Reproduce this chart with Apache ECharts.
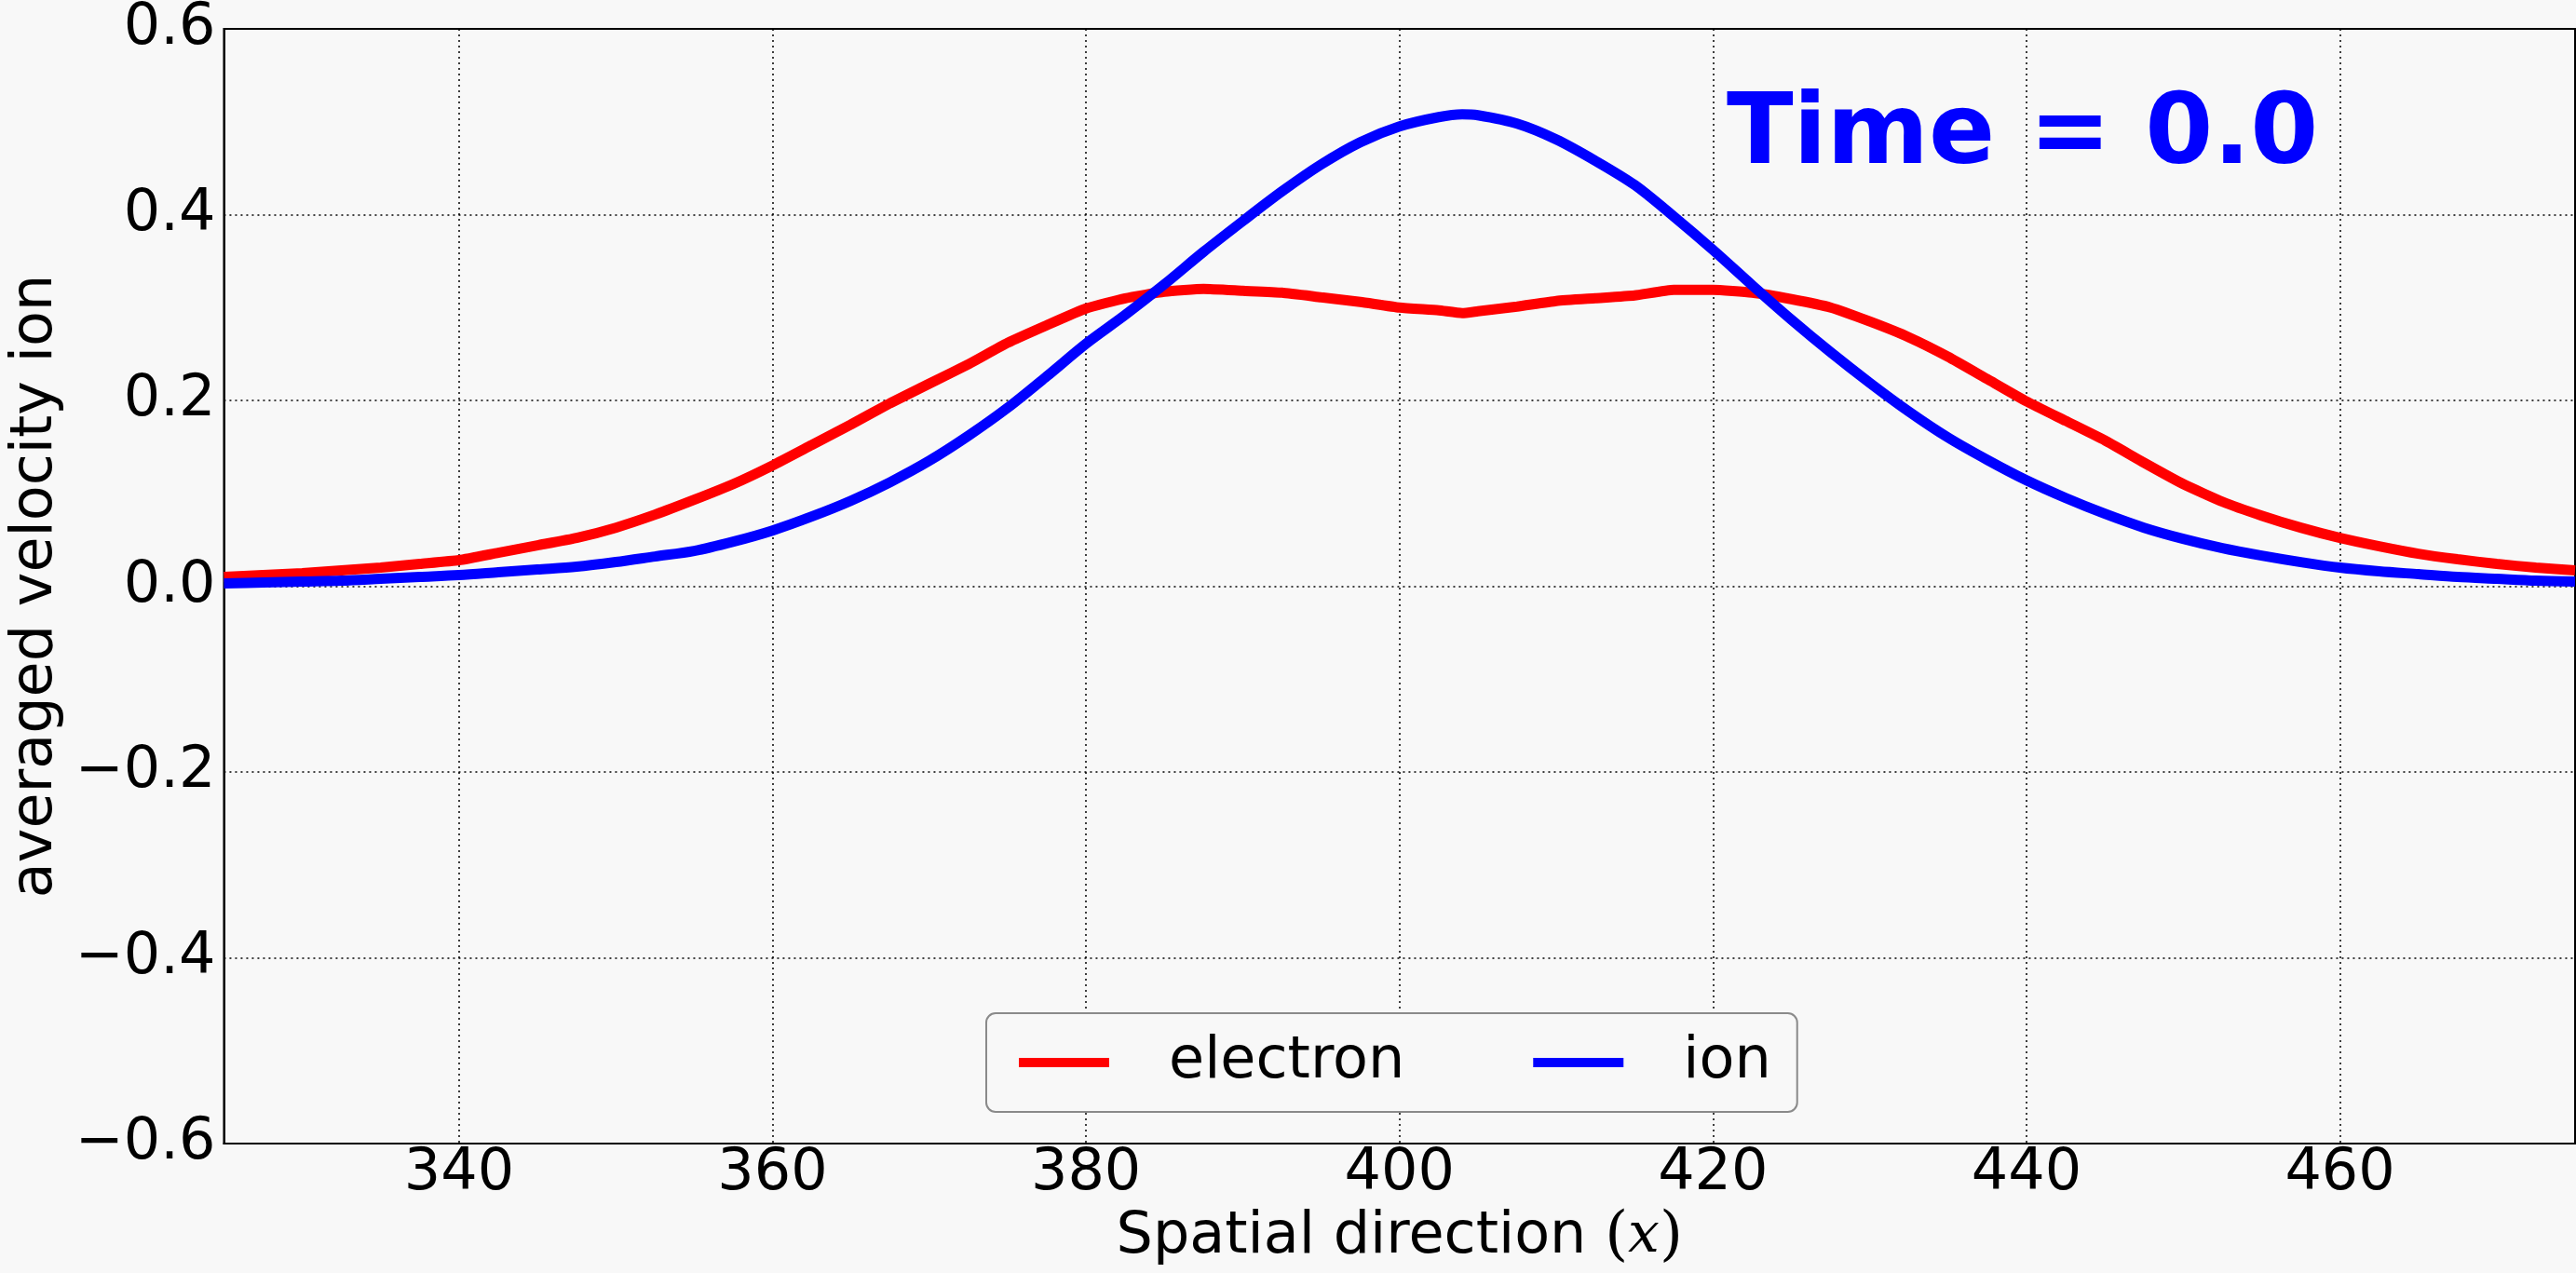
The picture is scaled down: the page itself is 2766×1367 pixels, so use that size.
<!DOCTYPE html>
<html>
<head>
<meta charset="utf-8">
<script src="https://cdn.jsdelivr.net/npm/echarts@6/dist/echarts.min.js"></script>
<style>
html,body{margin:0;padding:0;background:#f8f8f8;}
#chart{width:2766px;height:1367px;}
</style>
</head>
<body>
<div id="chart"></div>
<script>
// ---- data ----
const xValues = [325,327.5,330,332.5,335,337.5,340,342.5,345,347.5,350,352.5,355,357.5,360,362.5,365,367.5,370,372.5,375,377.5,380,382.5,385,387.5,390,392.5,395,397.5,400,402.5,404,405,407.5,410,412.5,415,417.5,420,422.5,425,427.5,430,432.5,435,437.5,440,442.5,445,447.5,450,452.5,455,457.5,460,462.5,465,467.5,470,472.5,475];
const electron = [0.010,0.012,0.014,0.017,0.020,0.024,0.028,0.036,0.044,0.052,0.063,0.077,0.093,0.110,0.130,0.152,0.174,0.197,0.218,0.239,0.262,0.281,0.299,0.310,0.317,0.320,0.318,0.316,0.311,0.306,0.300,0.297,0.294,0.296,0.301,0.307,0.310,0.313,0.319,0.319,0.316,0.309,0.300,0.285,0.268,0.247,0.223,0.199,0.178,0.157,0.133,0.110,0.091,0.076,0.063,0.052,0.043,0.035,0.029,0.024,0.020,0.017];
const ion = [0.003,0.004,0.005,0.006,0.008,0.010,0.012,0.015,0.018,0.021,0.026,0.032,0.038,0.048,0.060,0.075,0.092,0.112,0.135,0.162,0.192,0.226,0.261,0.292,0.325,0.360,0.393,0.425,0.454,0.478,0.495,0.505,0.508,0.507,0.498,0.481,0.458,0.432,0.398,0.362,0.324,0.287,0.252,0.219,0.188,0.160,0.136,0.114,0.095,0.078,0.063,0.051,0.041,0.033,0.026,0.020,0.016,0.013,0.010,0.008,0.006,0.005];
const xTicks = [340,360,380,400,420,440,460];
const yTicks = [-0.6,-0.4,-0.2,0.0,0.2,0.4,0.6];
const seriesNames = ['electron','ion'];
const titleText = 'Time = 0.0';
const xLabel = 'Spatial direction ';
const yLabel = 'averaged velocity ion';

const pairs = ys => xValues.map((x,i)=>[x, ys[i]]);
const FONT = 'DejaVu Sans';
const fmtY = v => (v < 0 ? '\u2212' : '') + Math.abs(v).toFixed(1);

const chart = echarts.init(document.getElementById('chart'), null, {renderer:'canvas'});
chart.setOption({
  backgroundColor: '#f8f8f8',
  animation: false,
  grid: {left:225, right:1, top:30, bottom:139, show:true, borderColor:'#000', borderWidth:2, backgroundColor:'transparent'},
  xAxis: {
    type:'value', min:325, max:475,
    name: '{t|' + xLabel + '}{p|(}{m|x}{p|)}',
    nameLocation:'middle', nameGap:66,
    nameTextStyle:{rich:{
      t:{fontFamily:FONT, fontSize:62, color:'#000'},
      p:{fontFamily:'DejaVu Serif', fontSize:64, color:'#000'},
      m:{fontFamily:'DejaVu Serif', fontStyle:'italic', fontSize:60, color:'#000'}
    }},
    axisLine:{show:true, onZero:false, lineStyle:{color:'#000', width:2}},
    axisTick:{show:false, customValues:xTicks},
    axisLabel:{customValues:xTicks, fontFamily:FONT, fontSize:62, color:'#000', margin:2},
    splitLine:{show:true, customValues:xTicks, lineStyle:{color:'#000', width:1.5, type:[2,4]}}
  },
  yAxis: {
    type:'value', min:yTicks[0], max:yTicks[yTicks.length-1], interval:0.2,
    name: yLabel, nameLocation:'middle', nameGap:168,
    nameTextStyle:{fontFamily:FONT, fontSize:62, color:'#000'},
    axisLine:{show:true, onZero:false, lineStyle:{color:'#000', width:2}},
    axisTick:{show:false},
    axisLabel:{fontFamily:FONT, fontSize:62, color:'#000', margin:9, formatter:fmtY},
    splitLine:{show:true, lineStyle:{color:'#000', width:1.5, type:[2,4]}}
  },
  legend: {
    data: seriesNames,
    left:1059, top:1088,
    orient:'horizontal',
    icon:'rect', itemWidth:97, itemHeight:10, itemGap:138,
    padding:[22,28,22,35],
    backgroundColor:'#f8f8f8',
    borderColor:'#8a8a8a', borderWidth:2, borderRadius:10,
    textStyle:{fontFamily:FONT, fontSize:62, color:'#000', lineHeight:62, padding:[0,0,0,59]}
  },
  graphic: [{
    type:'text', left:1854, top:95,
    style:{text:titleText, fontFamily:FONT, fontWeight:'bold', fontSize:105, fill:'#0000ff'}
  }],
  series: [
    {name:seriesNames[0], type:'line', data:pairs(electron), showSymbol:false, color:'#ff0000',
     smooth:0.15, lineStyle:{width:11, color:'#ff0000'}, z:2},
    {name:seriesNames[1], type:'line', data:pairs(ion), showSymbol:false, color:'#0000ff',
     smooth:0.3, lineStyle:{width:11, color:'#0000ff'}, z:3}
  ]
});
</script>
</body>
</html>
